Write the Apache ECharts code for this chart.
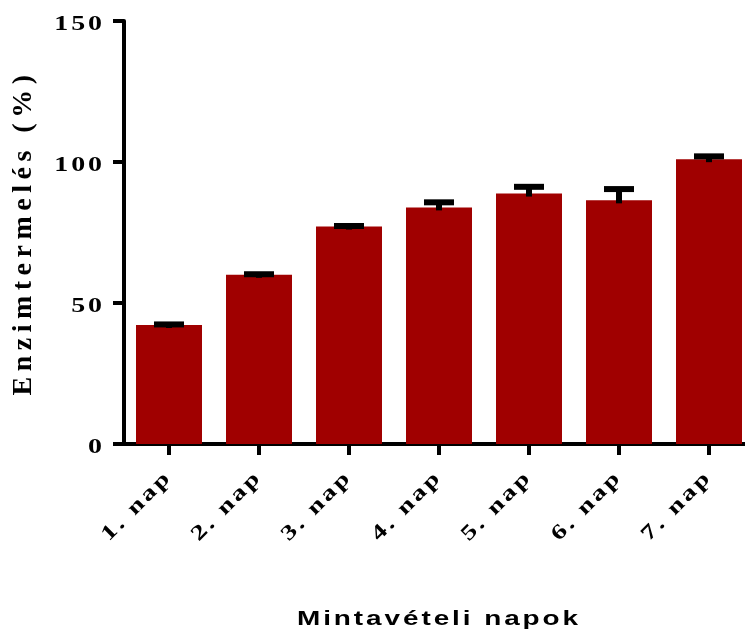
<!DOCTYPE html>
<html>
<head>
<meta charset="utf-8">
<script src="https://cdn.jsdelivr.net/npm/echarts@6/dist/echarts.min.js"></script>
<style>
  html, body { margin: 0; padding: 0; background: #fff; }
  #chart { width: 745px; height: 631px; }
</style>
</head>
<body>
<div id="chart"></div>
<script>
// Sampling days and mean enzyme production (%) with SD (upper bar only)
const days = ['1. nap', '2. nap', '3. nap', '4. nap', '5. nap', '6. nap', '7. nap'];
const production = [42.2, 60.0, 77.1, 83.9, 88.8, 86.4, 101.0];
const productionSd = [0.2, 0.2, 0.2, 1.8, 2.4, 4.0, 1.0];
const yTicks = [0, 50, 100, 150];

const yTitle = 'Enzimtermelés (%)';
const xTitle = 'Mintavételi napok';

const serif = 'Liberation Serif';
const sans = 'Liberation Sans';
const Y_TITLE_SIZE = 28;

// Lettering of the figure: the 28px vertical title is tracked out; every other
// text is drawn horizontally widened (along its own baseline) with light tracking.
(function () {
  const proto = CanvasRenderingContext2D.prototype;
  const fill = proto.fillText;
  const titleFont = new RegExp('\\b' + Y_TITLE_SIZE + 'px');
  proto.fillText = function (text, x, y, maxWidth) {
    const isTitle = titleFont.test(this.font);
    this.save();
    if ('letterSpacing' in this) this.letterSpacing = isTitle ? '5.5px' : '2.2px';
    if (!isTitle) {
      this.translate(x, y);
      this.scale(1.33, 1);
      x = 0;
      y = 0;
    }
    const r = maxWidth === undefined
      ? fill.call(this, text, x, y)
      : fill.call(this, text, x, y, maxWidth);
    this.restore();
    return r;
  };
})();

const chart = echarts.init(document.getElementById('chart'), null, { renderer: 'canvas' });

const errorData = days.map((d, i) => [i, production[i], productionSd[i]]);

chart.setOption({
  animation: false,
  backgroundColor: '#fff',
  grid: {
    left: 124,
    top: 21,
    width: 630,
    height: 423,
    containLabel: false,
    outerBoundsMode: 'none'
  },
  xAxis: {
    type: 'category',
    data: days,
    boundaryGap: true,
    axisLine: { show: true, lineStyle: { color: '#000', width: 4 } },
    axisTick: { show: true, alignWithLabel: true, length: 11, lineStyle: { color: '#000', width: 4 } },
    axisLabel: {
      interval: 0,
      rotate: 45,
      margin: 30,
      color: '#000',
      fontFamily: serif,
      fontWeight: 'bold',
      fontSize: 21
    },
    splitLine: { show: false },
    name: xTitle,
    nameLocation: 'middle',
    nameGap: 165,
    nameTextStyle: {
      color: '#000',
      fontFamily: sans,
      fontWeight: 'bold',
      fontSize: 21
    }
  },
  yAxis: {
    type: 'value',
    min: yTicks[0],
    max: yTicks[yTicks.length - 1],
    interval: yTicks[1] - yTicks[0],
    axisLine: { show: true, lineStyle: { color: '#000', width: 4 } },
    axisTick: { show: true, length: 11, lineStyle: { color: '#000', width: 4 } },
    axisLabel: {
      margin: 19,
      color: '#000',
      fontFamily: serif,
      fontWeight: 'bold',
      fontSize: 21,
      verticalAlign: 'top',
      lineHeight: 8
    },
    splitLine: { show: false },
    name: yTitle,
    nameLocation: 'middle',
    nameRotate: 90,
    nameGap: 86,
    nameTextStyle: {
      color: '#000',
      fontFamily: serif,
      fontWeight: 'bold',
      fontSize: Y_TITLE_SIZE
    }
  },
  series: [
    {
      type: 'bar',
      data: production,
      barWidth: 66,
      itemStyle: { color: '#a00000' },
      z: 2
    },
    {
      type: 'custom',
      data: errorData,
      encode: { x: 0, y: 1 },
      z: 3,
      renderItem: function (params, api) {
        const i = api.value(0);
        const m = api.value(1);
        const s = api.value(2);
        const base = api.coord([i, m]);
        const top = api.coord([i, m + s]);
        return {
          type: 'group',
          children: [
            {
              type: 'line',
              shape: { x1: base[0], y1: base[1] + 3, x2: top[0], y2: top[1] },
              style: { stroke: '#000', lineWidth: 6 }
            },
            {
              type: 'line',
              shape: { x1: top[0] - 15, y1: top[1], x2: top[0] + 15, y2: top[1] },
              style: { stroke: '#000', lineWidth: 6 }
            }
          ]
        };
      }
    }
  ]
});
</script>
</body>
</html>
